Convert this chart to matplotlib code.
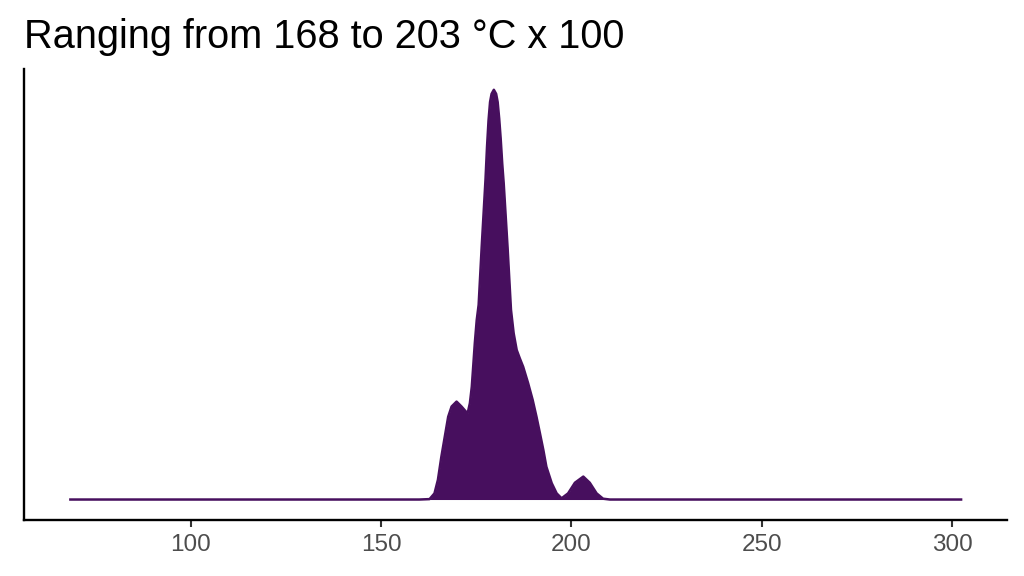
import matplotlib.pyplot as plt

plt.rcParams['font.family'] = ['Liberation Sans', 'DejaVu Sans']

# density curve (temperature, relative density)
temp = [68.0, 160.0, 162.7, 164.0, 164.9, 165.8, 166.7, 167.6, 168.5, 169.8,
        171.1, 172.7, 173.3, 173.8, 174.2, 174.6, 175.1, 175.6, 176.4, 177.4,
        177.8, 178.2, 178.6, 179.0, 179.6, 180.2, 180.6, 181.0, 181.4, 181.8,
        182.2, 183.2, 184.1, 184.8, 185.6, 186.4, 187.3, 188.6, 189.8,
        190.8, 191.7, 192.6, 193.4, 194.8, 196.1, 197.4, 199.1, 200.9, 203.1,
        204.8, 206.6, 208.3, 210.1, 302.7]
dens = [0.0, 0.0, 0.001, 0.015, 0.048, 0.104, 0.153, 0.202, 0.227, 0.239,
        0.227, 0.210, 0.235, 0.275, 0.328, 0.382, 0.438, 0.475, 0.616, 0.780,
        0.860, 0.925, 0.970, 0.990, 1.0, 0.990, 0.970, 0.930, 0.880, 0.820,
        0.770, 0.616, 0.463, 0.406, 0.365, 0.345, 0.324, 0.284, 0.243,
        0.202, 0.162, 0.121, 0.080, 0.040, 0.015, 0.003, 0.015, 0.041, 0.056,
        0.041, 0.015, 0.002, 0.0, 0.0]
xticks = [100, 150, 200, 250, 300]
title = 'Ranging from 168 to 203 \u00b0C x 100'

purple = '#470F5E'

fig = plt.figure(figsize=(10.24, 5.76), dpi=100)
ax = fig.add_axes([0.0239, 0.0972, 0.9595, 0.7825])

ax.fill_between(temp, dens, 0, color=purple, linewidth=0)
ax.plot(temp, dens, color=purple, linewidth=1.8, solid_capstyle='butt',
        solid_joinstyle='round')

lo, hi = min(temp), max(temp)
w = hi - lo
ax.set_xlim(lo - 0.05 * w, hi + 0.05 * w)
top = max(dens)
ax.set_ylim(-0.05 * top, 1.05 * top)

ax.set_xticks(xticks)
ax.set_yticks([])
for s in ['top', 'right']:
    ax.spines[s].set_visible(False)
for s in ['left', 'bottom']:
    ax.spines[s].set_linewidth(1.7)
    ax.spines[s].set_color('black')
ax.tick_params(axis='x', length=5, width=1.5, color='#333333',
               labelsize=17.5, labelcolor='#4D4D4D', pad=5)

fig.text(24.5 / 1024, 1 - 48.4 / 576, title, fontsize=28.6, va='baseline',
         ha='left', color='black')

fig.savefig('out.png', dpi=100)
